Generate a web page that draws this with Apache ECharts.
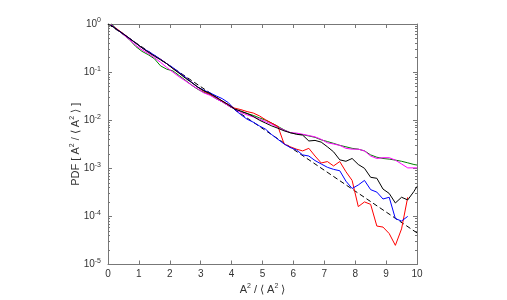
<!DOCTYPE html>
<html>
<head>
<meta charset="utf-8">
<script src="https://cdn.jsdelivr.net/npm/echarts@6/dist/echarts.min.js"></script>
<style>
  html, body { margin: 0; padding: 0; background: #fff; }
  #main { width: 507px; height: 300px; }
</style>
</head>
<body>
<div id="main"></div>
<script>
// x positions of the histogram points (A^2 / <A^2>)
let xs = [0.1, 0.3, 0.5, 0.7, 0.9, 1.1, 1.3, 1.5, 1.7, 1.9,
    2.1, 2.3, 2.5, 2.7, 2.9, 3.1, 3.3, 3.5, 3.7, 3.9,
    4.1, 4.3, 4.5, 4.7, 4.9, 5.1, 5.3, 5.5, 5.7, 5.9,
    6.1, 6.3, 6.5, 6.7, 6.9, 7.1, 7.3, 7.5, 7.7, 7.9,
    8.1, 8.3, 8.5, 8.7, 8.9, 9.1, 9.3, 9.5, 9.7, 9.9, 10.0];

let black = [0.93, 0.76, 0.62, 0.50, 0.40, 0.32, 0.26, 0.215, 0.18, 0.150,
    0.118, 0.095, 0.075, 0.061, 0.049, 0.041, 0.036, 0.030, 0.025, 0.021,
    0.017, 0.0155, 0.0138, 0.012, 0.010, 0.0087, 0.0076, 0.0068, 0.0060, 0.0055,
    0.0051, 0.0049, 0.0037, 0.0038, 0.0035, 0.0028, 0.0022, 0.0015, 0.0014, 0.0016,
    0.0012, 0.0010, 0.00065, 0.00062, 0.00037, 0.00030, 0.00019, 0.00025, 0.00022, 0.00033, 0.00042];

let green = [1.02, 0.76, 0.60, 0.47, 0.34, 0.27, 0.23, 0.19, 0.135, 0.115,
    0.106, 0.085, 0.068, 0.054, 0.044, 0.038, 0.034, 0.028, 0.024, 0.0200,
    0.017, 0.015, 0.0138, 0.0126, 0.0112, 0.010, 0.0087, 0.0074, 0.0063, 0.0055,
    0.0052, 0.0050, 0.0047, 0.0044, 0.0039, 0.0036, 0.0033, 0.0030, 0.0028, 0.0026,
    0.0025, 0.0023, 0.0019, 0.0017, 0.0016, 0.00155, 0.00148, 0.0014, 0.0013, 0.0012, 0.00117];

let magenta = [0.98, 0.76, 0.60, 0.47, 0.36, 0.29, 0.245, 0.20, 0.16, 0.125,
    0.100, 0.080, 0.066, 0.054, 0.045, 0.037, 0.033, 0.028, 0.024, 0.0200,
    0.017, 0.0145, 0.0129, 0.0117, 0.0105, 0.0093, 0.0083, 0.0071, 0.0062, 0.0055,
    0.0054, 0.0051, 0.0048, 0.0045, 0.0040, 0.0034, 0.0032, 0.0030, 0.0026, 0.0025,
    0.0025, 0.0023, 0.0018, 0.0016, 0.00166, 0.00166, 0.00148, 0.00123, 0.00102, 0.00102, 0.00102];

let blue = [0.95, 0.76, 0.62, 0.50, 0.40, 0.32, 0.27, 0.225, 0.185, 0.150,
    0.124, 0.099, 0.079, 0.062, 0.049, 0.042, 0.037, 0.032, 0.028, 0.023,
    0.0166, 0.013, 0.0105, 0.0091, 0.0076, 0.0065, 0.0050, 0.0040, 0.0032, 0.0027,
    0.0024, 0.0019, 0.0018, 0.00145, 0.00123, 0.00105, 0.00095, 0.00089, 0.00054, 0.00038,
    0.00045, 0.00056, 0.00036, 0.00032, 0.00023, 0.00025, 0.00009, 0.00008, 0.0001, null, null];

let red = [0.95, 0.78, 0.63, 0.50, 0.40, 0.32, 0.265, 0.22, 0.185, 0.150,
    0.120, 0.096, 0.078, 0.062, 0.049, 0.040, 0.035, 0.030, 0.025, 0.021,
    0.0178, 0.0166, 0.0151, 0.0141, 0.0123, 0.0102, 0.0087, 0.0074, 0.0032, 0.0028,
    0.0025, 0.0023, 0.0026, 0.0018, 0.00129, 0.00138, 0.00112, 0.00138, 0.00085, 0.00056,
    0.00016, 0.0002, 0.000178, 0.000063, 0.00006, 0.000044, 0.000025, 0.000055, 0.00025, null, null];

// reference exponential exp(-x), end points
let dashX = [0, 10];
let dashY = [1, 0.0000454];

function pairs(x, y) {
    let out = [];
    for (let i = 0; i < x.length; i++) out.push([x[i], y[i]]);
    return out;
}

// minor ticks of the log axis: 2..9 x 10^k
let minorTicks = [];
for (let k = -5; k < 0; k++) {
    for (let m = 2; m <= 9; m++) minorTicks.push(m * Math.pow(10, k));
}

let font = 'Liberation Sans, Arial, sans-serif';
let axisColor = '#777';
let sup = {fontSize: 7, padding: [0, 0, 7, 0], fontFamily: font, color: '#333'};

function yLabel(v) {
    let e = Math.round(Math.log10(v));
    return '10{sup|' + e + '}';
}

function xAxisOpt(pos, showLabel) {
    return {
        type: 'value', min: 0, max: 10, interval: 1, position: pos,
        axisLine: {show: true, onZero: false, lineStyle: {color: axisColor, width: 1}},
        axisTick: {show: true, inside: true, length: 4, lineStyle: {color: axisColor}},
        axisLabel: {show: showLabel, color: '#333', fontSize: 10, fontFamily: font, margin: 5},
        splitLine: {show: false}
    };
}

function yAxisOpt(pos, major) {
    return {
        type: 'log', logBase: 10, min: 0.00001, max: 1, position: pos,
        axisLine: {show: major, onZero: false, lineStyle: {color: axisColor, width: 1}},
        axisTick: major
            ? {show: true, inside: true, length: 4, lineStyle: {color: axisColor}}
            : {show: true, inside: true, length: 2, customValues: minorTicks, lineStyle: {color: axisColor}},
        axisLabel: {
            show: major && pos === 'left', color: '#333', fontSize: 10, fontFamily: font, margin: 7,
            formatter: yLabel, rich: {sup: sup}
        },
        splitLine: {show: false},
        minorTick: {show: false}
    };
}

let xA = xAxisOpt('bottom', true);
xA.name = 'A{sup|2} / \u27e8 A{sup|2} \u27e9';
xA.nameLocation = 'middle';
xA.nameGap = 18;
xA.nameMoveOverlap = false;
xA.nameTextStyle = {color: '#333', fontSize: 11, fontFamily: font, rich: {sup: sup}};

let yA = yAxisOpt('left', true);
yA.name = 'PDF [ A{sup|2} / \u27e8 A{sup|2} \u27e9 ]';
yA.nameLocation = 'middle';
yA.nameGap = 25;
yA.nameMoveOverlap = false;
yA.nameTextStyle = {color: '#333', fontSize: 11, fontFamily: font, rich: {sup: sup}};

function line(name, x, y, color, dashed) {
    return {
        name: name, type: 'line', data: pairs(x, y), xAxisIndex: 0, yAxisIndex: 0,
        showSymbol: false, symbol: 'none', connectNulls: false,
        lineStyle: {color: color, width: 1, type: dashed ? [5, 3] : 'solid'},
        itemStyle: {color: color}
    };
}

let myChart = echarts.init(document.getElementById('main'), null, {renderer: 'canvas'});
let option = {
    animation: false,
    backgroundColor: '#fff',
    grid: {left: 108, right: 90, top: 24, bottom: 33, containLabel: false},
    xAxis: [xA, xAxisOpt('top', false)],
    yAxis: [yA, yAxisOpt('left', false), yAxisOpt('right', true), yAxisOpt('right', false)],
    series: [
        line('exp', dashX, dashY, '#000', true),
        line('green', xs, green, '#008000', false),
        line('magenta', xs, magenta, '#ff00ff', false),
        line('red', xs, red, '#ff0000', false),
        line('blue', xs, blue, '#0000ff', false),
        line('black', xs, black, '#000', false)
    ]
};
myChart.setOption(option);
</script>
</body>
</html>
